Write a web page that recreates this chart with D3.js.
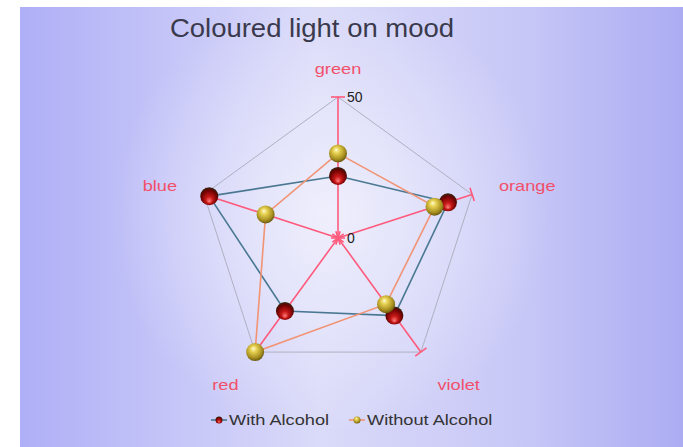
<!doctype html>
<html lang="en">
<head>
  <meta charset="utf-8">
  <title>radar chart</title>
  <style>
    * { margin: 0; padding: 0; box-sizing: border-box; }
    body { background: #fff; }
    svg { display: block; font-family: "Liberation Sans", Arial, sans-serif; }
  </style>
</head>

<body>
  <div class="chart"></div>
  <script src="https://cdn.jsdelivr.net/npm/d3@7"></script>
  <script>
    // ---------------------------------------------------------------
    //@@ data
    const categories = ['green', 'orange', 'violet', 'red', 'blue'];
    const withAlcohol = [22, 41, 34, 32, 48];
    const withoutAlcohol = [30, 36, 29, 50, 27];
    const tickLabels = [0, 50];
    const seriesNames = ['With Alcohol', 'Without Alcohol'];

    // ---------------------------------------------------------------
    //@@ svg configuration
    const svgDim = {w: 683, h: 447};
    const center = {x: 338, y: 238};
    const radius = 141;
    const stretch = 1.3; // text in the reference looks horizontally stretched

    const svg = d3.select('.chart').append('svg')
      .attr('width', svgDim.w)
      .attr('height', svgDim.h);

    const defs = svg.append('defs');

    //@@ background gradients
    const bgLin = defs.append('linearGradient').attr('id', 'bgLin')
      .attr('x1', 0).attr('x2', 1).attr('y1', 0).attr('y2', 0);
    bgLin.append('stop').attr('offset', 0).attr('stop-color', '#afaff7');
    bgLin.append('stop').attr('offset', 0.45).attr('stop-color', '#dadaf9');
    bgLin.append('stop').attr('offset', 0.75).attr('stop-color', '#c8c8f7');
    bgLin.append('stop').attr('offset', 1).attr('stop-color', '#acacf3');

    const bgRad = defs.append('radialGradient').attr('id', 'bgRad')
      .attr('gradientUnits', 'userSpaceOnUse')
      .attr('cx', 330).attr('cy', 215).attr('r', 220);
    bgRad.append('stop').attr('offset', 0).attr('stop-color', '#f2f2fd').attr('stop-opacity', 0.85);
    bgRad.append('stop').attr('offset', 1).attr('stop-color', '#f2f2fd').attr('stop-opacity', 0);

    //@@ sphere gradients
    const redBall = defs.append('radialGradient').attr('id', 'redBall')
      .attr('cx', '50%').attr('cy', '55%').attr('r', '55%')
      .attr('fx', '50%').attr('fy', '80%');
    redBall.append('stop').attr('offset', 0).attr('stop-color', '#ff8080');
    redBall.append('stop').attr('offset', 0.35).attr('stop-color', '#c81818');
    redBall.append('stop').attr('offset', 0.8).attr('stop-color', '#6a0000');
    redBall.append('stop').attr('offset', 1).attr('stop-color', '#2a2a10');

    const goldBall = defs.append('radialGradient').attr('id', 'goldBall')
      .attr('cx', '45%').attr('cy', '40%').attr('r', '60%')
      .attr('fx', '40%').attr('fy', '30%');
    goldBall.append('stop').attr('offset', 0).attr('stop-color', '#fffbd0');
    goldBall.append('stop').attr('offset', 0.3).attr('stop-color', '#e6d050');
    goldBall.append('stop').attr('offset', 0.75).attr('stop-color', '#a89020');
    goldBall.append('stop').attr('offset', 1).attr('stop-color', '#6a5a10');

    //@@ background
    svg.append('rect')
      .attr('x', 20).attr('y', 7)
      .attr('width', svgDim.w - 20).attr('height', svgDim.h - 7)
      .attr('fill', 'url(#bgLin)');
    svg.append('rect')
      .attr('x', 20).attr('y', 7)
      .attr('width', svgDim.w - 20).attr('height', svgDim.h - 7)
      .attr('fill', 'url(#bgRad)');

    //@@ title
    svg.append('g')
      .attr('transform', `translate(312,37) scale(1.1,1)`)
      .append('text')
      .attr('text-anchor', 'middle')
      .style('font-size', '25px')
      .style('fill', '#3a3a4c')
      .text('Coloured light on mood');

    // ---------------------------------------------------------------
    //@@ scales
    const scaleR = d3.scaleLinear().domain([0, 50]).range([0, radius]);
    const scaleA = d3.scalePoint().domain(categories).range([0, 2 * Math.PI * 4 / 5]);

    const pos = (cat, v) => {
      const a = scaleA(cat) - Math.PI / 2;
      return [center.x + scaleR(v) * Math.cos(a), center.y + scaleR(v) * Math.sin(a)];
    };

    const stage = svg.append('g');

    //@@ grid pentagon at max
    stage.append('path')
      .attr('d', d3.line()(categories.map(c => pos(c, 50))) + 'Z')
      .attr('fill', 'none')
      .attr('stroke', '#b0b0c2')
      .attr('stroke-width', 1);

    //@@ axes
    const axes = stage.selectAll('g.axis').data(categories).enter().append('g')
      .attr('class', 'axis')
      .attr('transform', d => `translate(${center.x},${center.y}) rotate(${scaleA(d) * 180 / Math.PI})`);

    axes.append('line')
      .attr('x1', 0).attr('y1', 0)
      .attr('x2', 0).attr('y2', -scaleR(50))
      .attr('stroke', '#ff5a7c')
      .attr('stroke-width', 1.6);

    axes.selectAll('line.cap').data(tickLabels).enter().append('line')
      .attr('class', 'cap')
      .attr('x1', -7).attr('x2', 7)
      .attr('y1', d => -scaleR(d)).attr('y2', d => -scaleR(d))
      .attr('stroke', '#ff5a7c')
      .attr('stroke-width', 1.6);

    //@@ tick labels
    stage.selectAll('text.tick').data(tickLabels).enter().append('text')
      .attr('class', 'tick')
      .attr('x', center.x + 9)
      .attr('y', d => center.y - scaleR(d) + 5)
      .style('font-size', '14px')
      .style('fill', '#222')
      .text(d => d);

    //@@ category labels
    const labelPos = d => {
      const p = pos(d, 60);
      const below = p[1] > center.y;
      return [p[0], p[1] + (below ? 15 : 5)];
    };
    stage.selectAll('g.cat').data(categories).enter().append('g')
      .attr('class', 'cat')
      .attr('transform', d => `translate(${labelPos(d)[0]},${labelPos(d)[1]}) scale(${stretch},1)`)
      .append('text')
      .attr('text-anchor', d => {
        const x = pos(d, 60)[0];
        return Math.abs(x - center.x) < 5 ? 'middle' : (x > center.x ? 'start' : 'end');
      })
      .style('font-size', '14px')
      .style('fill', '#f2506a')
      .text(d => d);

    //@@ series lines
    const series = [
      {name: seriesNames[0], values: withAlcohol, line: '#4a7892', ball: 'url(#redBall)'},
      {name: seriesNames[1], values: withoutAlcohol, line: '#f29474', ball: 'url(#goldBall)'}
    ];

    series.forEach(s => {
      const pts = categories.map((c, i) => pos(c, s.values[i]));
      stage.append('path')
        .attr('d', d3.line()(pts) + 'Z')
        .attr('fill', 'none')
        .attr('stroke', s.line)
        .attr('stroke-width', 1.6);
    });

    //@@ markers
    series.forEach(s => {
      stage.selectAll(null).data(categories).enter().append('circle')
        .attr('cx', (c, i) => pos(c, s.values[i])[0])
        .attr('cy', (c, i) => pos(c, s.values[i])[1])
        .attr('r', 9)
        .attr('fill', s.ball);
    });

    //@@ legend
    const legend = svg.append('g').attr('transform', 'translate(211,420)');
    const legX = [0, 138];
    series.forEach((s, i) => {
      const g = legend.append('g').attr('transform', `translate(${legX[i]},0)`);
      g.append('line')
        .attr('x1', 0).attr('x2', 16).attr('y1', 0).attr('y2', 0)
        .attr('stroke', s.line).attr('stroke-width', 1.6);
      g.append('circle')
        .attr('cx', 8).attr('cy', 0).attr('r', 3.5)
        .attr('fill', s.ball);
      g.append('g')
        .attr('transform', `translate(18,5) scale(${stretch},1)`)
        .append('text')
        .style('font-size', '14px')
        .style('fill', '#333')
        .text(s.name);
    });
  </script>
</body>

</html>
